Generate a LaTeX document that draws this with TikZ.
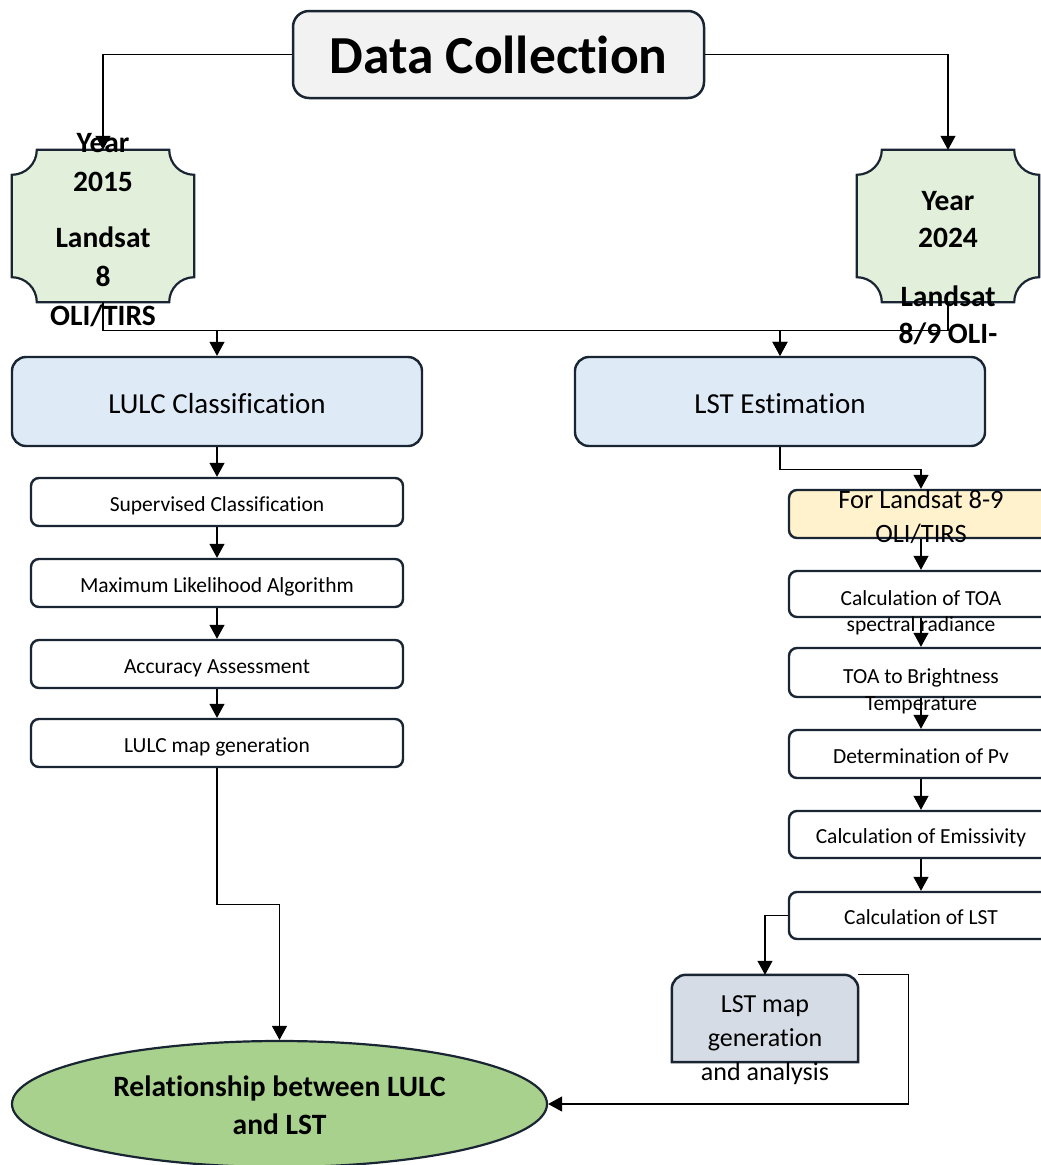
\documentclass[tikz,border=0pt]{standalone}
\usepackage{fontspec}
\setmainfont[Ligatures=NoCommon]{Carlito}
\usetikzlibrary{arrows.meta,calc,shapes.geometric}
\definecolor{bord}{HTML}{1A2533}
\definecolor{dcfill}{HTML}{F2F2F2}
\definecolor{greenbox}{HTML}{E2EFDA}
\definecolor{bluebox}{HTML}{DEEBF7}
\definecolor{yelbox}{HTML}{FFF2CC}
\definecolor{graybox}{HTML}{D6DCE5}
\definecolor{ellfill}{HTML}{A9D18E}
\newcommand\fsz[2]{\fontsize{#1}{#2}\selectfont}
% plaque (concave corners) drawn around a named node
\newcommand\drawplaque[1]{%
  \filldraw[fill=greenbox,draw=bord,line width=2.2pt]
    ($(#1.north west)+(25,0)$) -- ($(#1.north east)+(-25,0)$)
    .. controls +(0,13.8) and +(-13.8,0) .. ($(#1.north east)+(0,25)$)
    -- ($(#1.south east)+(0,-25)$)
    .. controls +(-13.8,0) and +(0,-13.8) .. ($(#1.south east)+(-25,0)$)
    -- ($(#1.south west)+(25,0)$)
    .. controls +(0,-13.8) and +(13.8,0) .. ($(#1.south west)+(0,-25)$)
    -- ($(#1.north west)+(0,25)$)
    .. controls +(13.8,0) and +(0,13.8) .. ($(#1.north west)+(25,0)$) -- cycle;}
\begin{document}
\begin{tikzpicture}[x=1pt,y=-1pt,
  box/.style={draw=bord,line width=2.4pt,rounded corners=8pt,fill=white,inner sep=0pt},
  bigbox/.style={box,rounded corners=14pt,minimum width=410pt,minimum height=89pt,fill=bluebox,font=\fsz{29}{35},text height=24pt,text depth=1pt},
  smallbox/.style={box,minimum height=48pt,font=\fsz{21.5}{26},text height=19pt,text depth=1pt},
  lbox/.style={smallbox,minimum width=372pt},
  rbox/.style={smallbox,minimum width=264pt},
  conn/.style={line width=1.1pt,draw=black,-{Triangle[width=15pt,length=14pt]}},
  txt/.style={align=center,inner sep=0pt},
  plq/.style={minimum width=182pt,minimum height=152pt,inner sep=0pt},
]
\useasboundingbox (0,0) rectangle (1041,1165);
\fill[white] (0,0) rectangle (1041,1165);

% Data collection
\node[draw=bord,inner sep=0pt,rounded corners=16pt,line width=2.5pt,fill=dcfill,minimum width=411pt,minimum height=87pt,font=\fsz{53.5}{60}\bfseries] (dc) at (498.5,54.5) {Data Collection};

% Year boxes
\node[plq] (y15) at (103,226) {};
\node[plq] (y24) at (948,226) {};
\drawplaque{y15}
\drawplaque{y24}
\node[txt,font=\fsz{29.5}{39}\bfseries] (y15t) at (103,230) {Year\\2015\\[17pt]Landsat\\8\\OLI/TIRS};
\node[txt,font=\fsz{29.5}{37}\bfseries] (y24t) at (948,268) {Year\\2024\\[22pt]Landsat\\8/9 OLI-};

% main process boxes
\node[bigbox] (lulc) at (217,401.5) {LULC Classification};
\node[bigbox] (lst) at (780,401.5) {LST Estimation};

% left column
\node[lbox] (sup) at (217,502) {Supervised Classification};
\node[lbox] (ml) at (217,583) {Maximum Likelihood Algorithm};
\node[lbox] (acc) at (217,664) {Accuracy Assessment};
\node[lbox] (lmap) at (217,743) {LULC map generation};

% right column
\node[rbox,fill=yelbox] (fls) at (921,514) {};
\node[txt,font=\fsz{26.5}{34}] (flst) at (921,517) {For Landsat 8-9\\OLI/TIRS};
\node[rbox,minimum height=46pt] (toa) at (921,594) {};
\node[txt,font=\fsz{21.5}{26}] (toat) at (921,613) {Calculation of TOA\\spectral radiance};
\node[rbox,minimum height=49pt] (tb) at (921,672.5) {};
\node[txt,font=\fsz{21.5}{27}] (tbt) at (921,691) {TOA to Brightness\\Temperature};
\node[rbox] (pv) at (921,754) {Determination of Pv};
\node[rbox,minimum height=47pt] (em) at (921,834.5) {Calculation of Emissivity};
\node[rbox,minimum height=47pt] (lstc) at (921,915.5) {Calculation of LST};

% LST map box (rounded top corners only)
\node[minimum width=186pt,minimum height=87pt,inner sep=0pt] (lstmap) at (765,1018.5) {};
\filldraw[fill=graybox,draw=bord,line width=2.5pt]
  (lstmap.south west) -- ($(lstmap.north west)+(0,14)$)
  .. controls +(0,-7.7) and +(-7.7,0) .. ($(lstmap.north west)+(14,0)$)
  -- ($(lstmap.north east)+(-14,0)$)
  .. controls +(7.7,0) and +(0,-7.7) .. ($(lstmap.north east)+(0,14)$)
  -- (lstmap.south east) -- cycle;
\node[txt,font=\fsz{26}{34}] (lstmapt) at (765,1040) {LST map\\generation\\and analysis};

% ellipse
\node[ellipse,draw=bord,line width=2.2pt,fill=ellfill,minimum width=535pt,minimum height=126pt,inner sep=0pt] (ell) at (279.5,1104) {};
\node[txt,font=\fsz{29.5}{38}\bfseries] (ellt) at (279.5,1105) {Relationship between LULC\\and LST};

% connectors
\draw[conn] (dc.west) -| (y15.north);
\draw[conn] (dc.east) -| (y24.north);
\draw[conn] (y15.south) -- ++(0,28) -| (lulc.north);
\draw[conn] (y15.south) -- ++(0,28) -| (lst.north);
\draw[conn] (y24.south) -- ++(0,28) -| (lst.north);
\draw[conn] (lulc.south) -- (sup.north);
\draw[conn] (sup.south) -- (ml.north);
\draw[conn] (ml.south) -- (acc.north);
\draw[conn] (acc.south) -- (lmap.north);
\draw[conn] (lmap.south) -- ++(0,136) -| (ell.north);
\draw[conn] (lst.south) -- ++(0,22) -| (fls.north);
\draw[conn] (fls.south) -- (toa.north);
\draw[conn] (toa.south) -- (tb.north);
\draw[conn] (tb.south) -- (pv.north);
\draw[conn] (pv.south) -- (em.north);
\draw[conn] (em.south) -- (lstc.north);
\draw[conn] (lstc.west) -| (lstmap.north);
\draw[conn] (lstmap.north east) -- ++(50,0) |- (ell.east);
\end{tikzpicture}
\end{document}
